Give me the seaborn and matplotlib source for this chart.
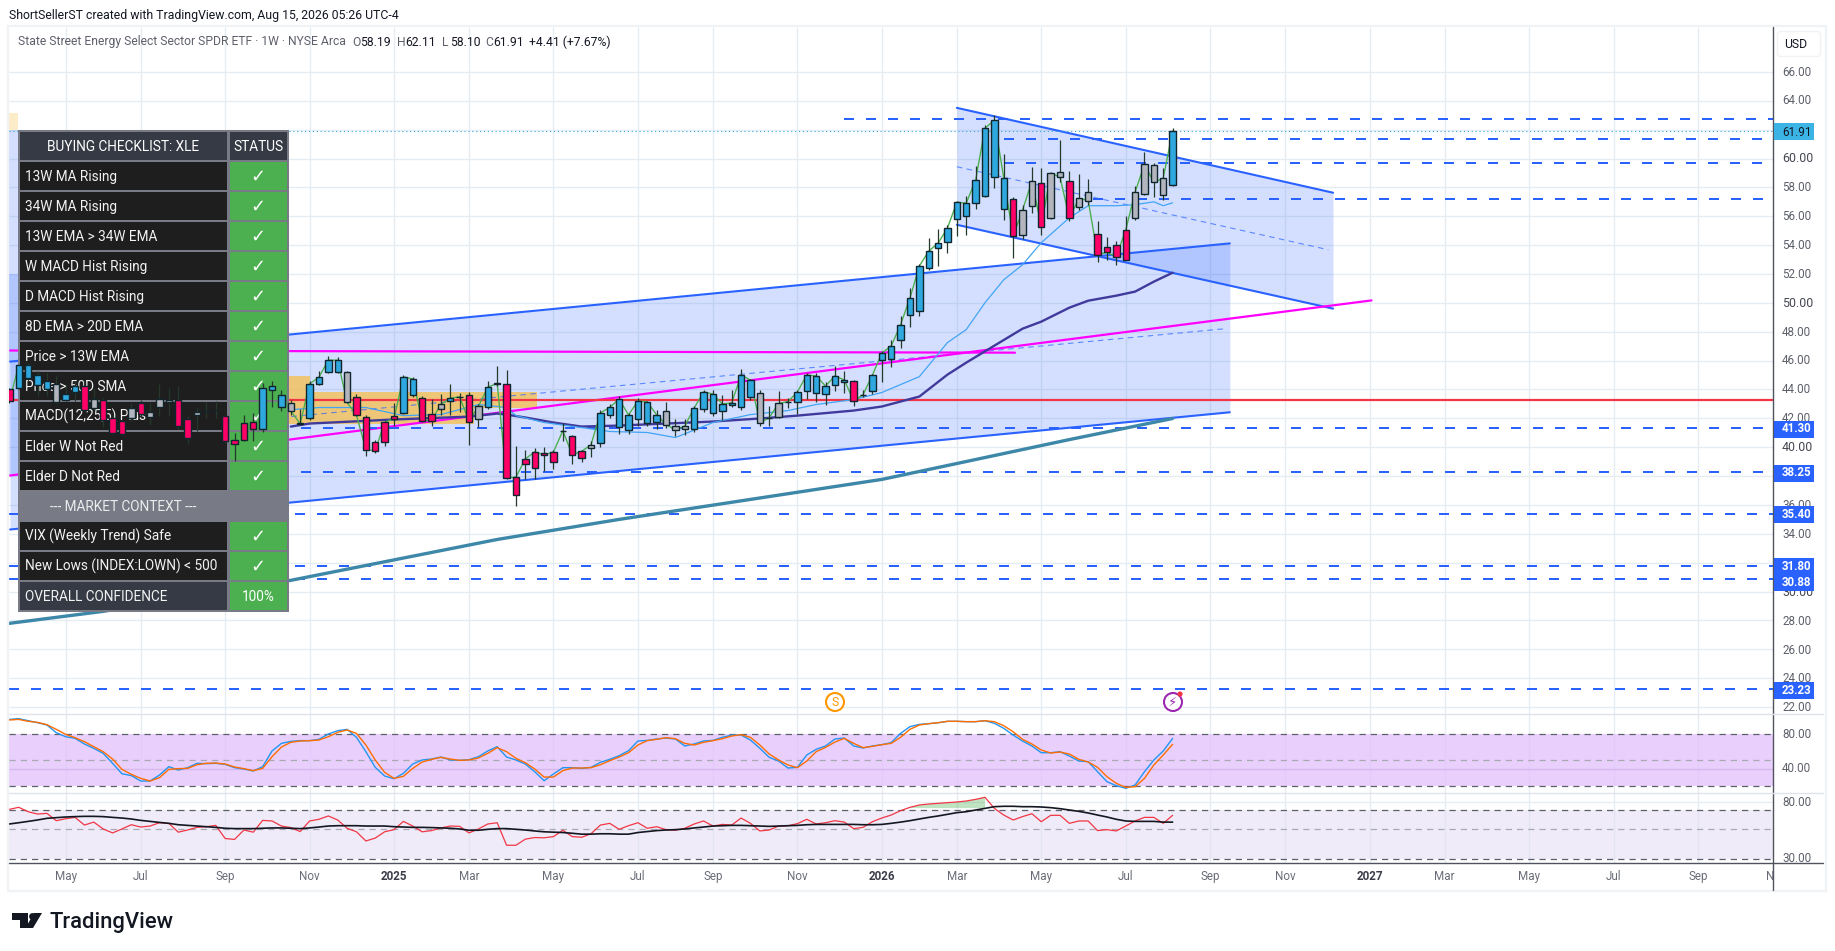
import numpy as np
import matplotlib
matplotlib.use("Agg")
import matplotlib.pyplot as plt
from matplotlib.patches import Rectangle, Polygon, Circle, FancyBboxPatch
import seaborn as sns

# Weekly candles, bar 1 is the leftmost on the chart and bar 125 the last one
opens = [44.0,44.11,44.8,44.3,44.0,44.41,43.28,43.83,44.23,42.73,43.26,42.03,41.8,42.03,43.07,42.47,42.82,43.26,43.26,41.94,
         42.24,42.5,42.56,42.15,40.49,40.51,41.27,41.23,43.97,42.82,43.05,41.66,41.99,44.41,45.24,45.22,45.22,43.46,42.08,40.35,
         40.37,42.15,42.38,43.63,43.42,42.29,42.68,43.21,43.51,43.63,41.97,42.8,44.43,44.36,36.68,38.84,38.57,39.61,38.98,41.13,
         40.78,39.26,39.95,40.3,42.24,41.41,41.2,41.96,41.68,41.75,42.51,41.47,41.27,41.27,42.65,42.37,42.51,42.93,42.79,43.48,
         43.74,42.03,42.1,43.14,43.14,43.9,43.76,43.69,44.31,44.5,44.59,43.62,43.9,46.02,46.09,47.45,49.13,49.41,52.45,53.79,
         54.25,55.78,56.05,56.95,57.41,58.75,56.49,57.18,54.67,56.68,58.29,55.87,59.05,58.43,56.61,57.67,54.76,53.86,54.0,53.0,
         55.85,57.51,59.54,57.44,58.19]
highs = [44.11,45.73,45.84,45.26,45.15,45.03,44.34,44.57,44.69,44.11,43.42,42.26,41.92,43.07,43.3,43.07,44.41,44.11,44.23,42.15,
         42.73,43.12,43.19,42.26,41.0,42.26,42.38,44.46,44.57,43.99,43.3,42.68,44.57,45.26,46.3,46.26,45.26,43.72,42.26,40.53,
         41.85,43.07,45.03,44.87,43.53,43.35,43.72,44.39,43.76,43.81,42.96,44.62,45.66,45.38,40.07,39.84,39.95,40.02,39.84,41.68,
         40.87,39.84,40.46,42.56,43.0,43.53,42.37,43.41,43.18,42.56,43.16,41.96,41.96,42.84,43.99,43.99,43.64,43.99,45.44,44.75,
         43.99,42.84,43.87,43.41,43.99,45.14,45.14,44.5,45.65,45.3,44.68,43.99,45.07,46.69,47.45,49.06,51.02,52.71,54.48,55.11,
         55.41,57.07,57.41,59.49,62.33,63.02,60.32,57.32,56.79,59.4,59.33,59.1,61.29,59.14,58.94,58.59,55.68,54.58,54.32,56.03,
         58.11,60.48,59.67,59.33,62.11]
lows = [43.07,44.04,44.57,43.58,43.53,43.07,43.19,43.19,42.5,42.61,41.41,40.88,40.88,41.8,42.1,41.57,42.15,42.15,41.23,40.19,
        41.11,41.99,41.99,40.3,39.03,40.42,40.42,41.04,42.77,42.5,42.26,41.55,41.92,44.34,45.15,45.15,43.03,42.15,39.38,39.61,
        40.07,41.46,42.31,43.49,41.78,41.5,42.26,42.26,42.43,40.12,41.39,42.66,44.23,37.77,35.92,37.81,37.81,38.34,38.52,40.41,
        38.87,38.96,39.31,39.99,42.0,40.9,40.92,41.45,41.5,41.27,41.34,40.76,40.83,41.04,42.42,42.19,41.91,42.77,42.61,43.3,
        41.45,41.45,42.0,42.74,42.28,43.34,43.11,42.95,43.92,43.76,42.84,43.46,43.71,44.5,45.56,46.87,48.32,49.11,52.29,52.52,
        53.45,54.6,54.67,56.51,57.3,57.99,55.75,53.08,54.44,56.26,54.71,55.8,58.34,55.64,56.44,56.79,52.85,52.98,52.64,52.98,
        55.75,57.46,57.3,57.14,58.1]
closes = [43.19,45.68,45.68,44.99,44.57,43.16,43.67,44.23,42.61,43.37,41.92,41.0,40.93,42.75,42.33,42.06,43.33,43.16,41.5,40.67,
          42.47,42.54,42.55,40.4,40.19,41.66,41.73,44.09,44.23,43.6,42.52,41.62,44.39,44.85,46.03,46.03,43.1,42.24,39.84,39.75,
          41.73,41.97,44.87,44.73,41.83,41.85,42.98,43.4,43.49,41.78,42.84,44.16,44.41,37.88,37.93,39.19,39.68,39.47,39.68,41.15,
          39.47,39.72,40.16,42.37,42.77,43.32,42.24,43.2,43.14,42.24,41.57,41.2,41.47,42.72,43.83,43.69,43.0,43.07,45.0,44.66,
          41.68,42.05,43.04,43.16,43.83,45.0,44.94,44.24,44.94,44.66,43.2,43.64,45.0,46.53,47.01,48.49,50.33,52.55,53.58,54.14,
          55.18,56.97,56.91,58.5,62.1,62.65,58.64,54.62,56.42,58.43,55.29,58.98,58.71,55.85,57.25,57.09,53.35,53.49,53.21,55.04,
          57.67,59.6,58.34,58.64,61.91]
# r = red, b = blue, g = grey candle
impulse = list("rbbbbgbbrg" "rrrgrgggrr" "gbgrrrrbbb" "ggbbbbgrrr" "rrbbrrgbgr"
               "gbgrrrrrrg" "rrgbbbbbbb" "gggbbbbbbb" "ggggbbbbbb" "rgbbbbbbbb"
               "bbbbbbbrgg" "rggrggrrrr" "ggggb")

# Trend averages: (bar, price)
ma13_bars = [31,34,39,43,47,51,54,55,58,62,65,69,72,76,80,84,87,91,94,98,101,103,105,107,109,111,114,116,119,121,123,124,125]
ma13_vals = [42.6,42.75,42.75,42.19,42.26,42.96,42.75,42.19,41.71,41.36,41.09,41.02,40.67,41.71,42.26,42.54,42.96,43.3,43.79,
             44.89,47.25,48.15,50.01,51.6,52.64,54.17,55.9,56.73,56.73,56.8,57.0,56.73,56.93]
ma34_bars = [31,33,42,50,53,54,56,59,62,66,71,76,81,85,91,94,98,101,103,109,111,114,116,119,121,123,125]
ma34_vals = [41.43,41.64,41.92,42.12,42.33,42.26,42.06,41.71,41.43,41.5,41.64,41.78,41.99,42.19,42.54,42.82,43.51,45.03,45.86,
             48.21,48.7,49.67,50.15,50.5,50.78,51.47,52.09]
ma200_bars = [1,11,31,53,66,94,103,114,125]
ma200_vals = [27.8,28.63,30.78,33.61,35.0,37.77,39.01,40.53,41.99]

# Horizontal levels: price, first bar, last bar
level_prices = [62.75,61.36,59.7,57.2,41.3,38.25,35.4,31.8,30.88,23.23]
level_starts = [90,107,107,116.5,25,25,1,1,1,1]
level_ends = [189,187.8,187.8,189,189,189,189,189,189,189]
axis_labels = ["41.30","38.25","35.40","31.80","30.88","23.23"]
axis_label_y = [429,473,514,566,582,690]

price_ticks = list(range(22,68,2))
month_bars = [7,15,24,33,42,50,59,68,76,85,94,102,111,120,129,137,146,154,163,172,181,189.3]
month_names = ["May","Jul","Sep","Nov","2025","Mar","May","Jul","Sep","Nov","2026","Mar","May","Jul","Sep","Nov","2027","Mar",
               "May","Jul","Sep","Nov"]

# Stochastic RSI pane
stoch_k = [96.7,97.5,95.2,92.9,90.3,81.5,76.9,75.0,68.6,63.6,57.9,46.5,34.6,32.4,26.3,26.3,33.1,42.7,38.8,41.5,46.5,46.1,46.5,45.3,
           41.5,40.0,37.7,42.7,60.6,69.3,71.6,72.4,72.4,73.9,80.0,83.8,85.3,76.2,59.8,41.9,32.0,28.9,35.0,45.7,50.3,51.4,53.7,50.3,
           49.9,50.6,54.1,60.6,65.5,53.7,50.3,45.7,36.9,26.6,34.3,41.5,41.5,40.7,41.9,47.6,51.0,55.2,
           60.9,72.0,72.7,74.3,75.4,74.3,66.3,68.6,72.0,72.7,76.2,78.8,78.8,73.1,63.6,53.3,49.1,41.1,41.9,56.0,62.5,66.3,74.3,75.4,
           66.3,64.0,66.3,67.8,70.1,80.7,88.4,91.0,91.8,92.9,94.5,94.5,94.1,94.1,95.2,92.2,86.5,78.8,72.0,66.3,58.6,58.6,59.8,54.8,
           49.1,48.4,36.9,25.5,20.9,17.9,21.7,36.9,50.3,60.6,75.0]
stoch_d = [96.0,96.7,94.5,93.3,90.7,85.3,79.6,75.8,71.2,65.5,59.8,51.4,39.6,33.9,29.3,26.3,30.1,39.6,40.4,40.7,44.9,46.5,46.8,45.7,
           42.3,40.4,38.1,40.7,54.1,65.1,70.5,72.0,72.4,73.1,76.9,81.9,84.6,80.7,67.4,50.3,36.2,29.3,31.6,40.7,48.0,51.0,53.3,51.4,
           49.9,50.3,52.6,57.9,64.4,59.8,52.2,47.2,40.0,30.8,30.8,38.1,41.1,41.1,41.5,44.9,49.5,53.7,
           58.6,67.4,72.4,73.9,75.8,74.6,69.3,67.4,70.5,72.4,74.6,77.7,79.2,76.2,67.4,57.1,50.3,44.6,41.5,49.1,59.8,64.7,70.8,75.0,
           69.3,64.4,65.9,67.8,69.3,76.2,85.3,90.3,91.8,92.9,94.5,94.5,94.1,94.1,95.2,94.1,89.5,82.6,73.9,68.6,61.7,58.3,59.4,57.1,
           51.0,48.0,41.9,31.2,23.6,19.0,19.8,29.3,44.6,56.0,68.2]

# RSI pane
rsi = [70.5,73.0,67.7,65.0,65.8,58.0,60.0,61.4,53.8,56.6,50.3,47.0,50.3,54.1,52.0,52.9,56.0,55.4,47.6,49.4,51.7,52.3,53.5,42.7,42.0,
       49.4,47.6,58.3,57.7,52.9,51.5,48.1,57.7,59.4,62.9,58.7,50.9,47.9,40.9,43.0,47.9,49.7,57.3,52.9,47.9,48.9,51.2,52.9,52.6,47.0,
       50.3,54.8,56.0,38.0,38.0,42.2,43.4,43.2,44.1,49.2,44.1,43.6,46.3,53.8,55.4,50.0,
       53.2,56.0,50.9,52.3,49.7,49.2,50.9,54.8,57.7,52.9,54.4,53.8,60.7,55.4,48.6,49.4,52.9,53.2,55.1,59.4,54.8,56.0,58.0,56.6,50.6,
       51.7,57.0,60.7,63.9,68.9,73.0,76.0,77.3,78.2,79.1,80.0,81.4,83.7,86.7,71.7,63.9,58.7,62.2,65.4,57.0,63.6,63.6,55.4,57.7,57.7,
       48.9,49.7,48.6,52.9,57.7,61.4,61.4,55.4,63.6]
rsi_ma = [54.8,56.0,57.3,58.7,60.4,61.1,61.8,62.2,62.5,62.5,62.2,61.4,60.7,59.7,58.3,57.3,56.3,55.4,54.1,53.5,52.9,52.3,51.7,50.9,
          50.6,50.6,50.6,50.9,51.2,51.2,50.9,50.6,51.2,52.0,52.9,53.2,53.2,53.2,52.9,52.9,52.9,52.3,52.0,51.7,51.7,51.5,51.2,50.9,
          50.3,49.2,49.2,50.0,50.6,50.6,50.0,49.4,48.6,47.9,47.6,47.3,46.7,46.0,46.0,46.3,46.3,46.0,
          46.0,47.3,48.1,48.9,49.4,49.7,50.3,51.2,52.0,52.9,53.2,53.5,53.5,53.2,52.9,52.6,52.9,53.2,53.5,54.1,54.4,54.4,54.4,54.4,54.4,
          54.1,54.1,54.4,55.4,56.6,58.0,59.7,61.4,62.9,64.7,66.6,67.7,69.7,71.7,73.8,74.3,74.3,73.8,73.8,73.4,72.6,71.3,69.7,68.1,66.2,
          63.9,61.8,59.4,57.7,57.3,57.3,57.3,56.6,56.6]

checklist_items = ["13W MA Rising","34W MA Rising","13W EMA > 34W EMA","W MACD Hist Rising","D MACD Hist Rising","8D EMA > 20D EMA",
                   "Price > 13W EMA","Price > 50D SMA","MACD(12,25,5) Plus","Elder W Not Red","Elder D Not Red"]
context_items = ["VIX (Weekly Trend) Safe","New Lows (INDEX:LOWN) < 500"]

W, H = 1835, 951
BAR_LEFT, BAR_RIGHT = 0.96, 189.0
GRID = "#e6edf2"
BLUE = "#2962ff"

sns.set_theme(style="white")
plt.rcParams["font.family"] = ["Roboto", "DejaVu Sans"]

fig = plt.figure(figsize=(W / 100, H / 100), dpi=100, facecolor="white")


def pane(top, bottom, zorder=1):
    ax = fig.add_axes([9 / W, 1 - bottom / H, (1773 - 9) / W, (bottom - top) / H], zorder=zorder)
    ax.patch.set_alpha(0)
    return ax


def line(ax, x, y, color, lw, **kw):
    sns.lineplot(x=x, y=y, ax=ax, color=color, linewidth=lw, estimator=None, sort=False, legend=False, **kw)


def finish(ax, ylim):
    ax.set_xlim(BAR_LEFT, BAR_RIGHT)
    ax.set_ylim(*ylim)
    ax.set_xlabel("")
    ax.set_ylabel("")
    ax.set_xticks([])
    ax.set_yticks([], minor=False)
    ax.minorticks_off()
    for s in ax.spines.values():
        s.set_visible(False)


bars = np.arange(1, 126)
PRICE_LIM = (21.52, 69.11)

# --- main price pane ---
ax = pane(27, 714)
ax.vlines(month_bars[:-1], *PRICE_LIM, color=GRID, lw=1.0, zorder=0)
ax.hlines(price_ticks, BAR_LEFT, BAR_RIGHT, color=GRID, lw=1.0, zorder=0)

# channels and zones
ax.fill_between([1.07, 131.1], [34.3, 42.42], [45.93, 54.12], color=BLUE, alpha=0.2, lw=0, zorder=1)
ax.fill_between([102, 142.1], [55.41, 49.6], [63.51, 57.63], color=BLUE, alpha=0.2, lw=0, zorder=1)
ax.fill_between([0.96, 2.2], [45.9, 45.9], [62.0, 62.0], color=BLUE, alpha=0.2, lw=0, zorder=1)
ax.fill_between([0.96, 2.2], [38.0, 38.0], [52.0, 52.0], color=BLUE, alpha=0.2, lw=0, zorder=1)
ax.fill_between([0.96, 1.9], [62.0, 62.0], [63.16, 63.16], color="#fdecc8", lw=0, zorder=1)
ax.fill_between([25, 33], [43.85, 43.85], [44.96, 44.96], color="#f2c35f", alpha=0.85, lw=0, zorder=1.2)
ax.fill_between([25, 57.2], [42.75, 42.75], [43.85, 43.85], color="#f2c35f", alpha=0.85, lw=0, zorder=1.2)
ax.fill_between([25, 50.5], [41.64, 41.64], [42.75, 42.75], color="#f2c35f", alpha=0.85, lw=0, zorder=1.2)

line(ax, [1.07, 131.1], [45.93, 54.12], BLUE, 1.5)
line(ax, [1.07, 131.1], [34.3, 42.42], BLUE, 1.5)
line(ax, [30, 130.6], [42.06, 48.21], BLUE, 0.8, linestyle=(0, (5, 4)), alpha=0.7)
line(ax, [102, 142.1], [63.51, 57.63], BLUE, 1.5)
line(ax, [102, 142.1], [55.41, 49.6], BLUE, 1.5)
line(ax, [102, 141.6], [59.43, 53.68], BLUE, 0.8, linestyle=(0, (5, 4)), alpha=0.7)

line(ax, [1.07, 108.2], [46.7, 46.55], "#ff00ff", 1.6)
line(ax, [1.07, 146.2], [38.04, 50.17], "#ff00ff", 1.6)
line(ax, [0.96, 189], [43.3, 43.3], "#f23645", 1.6)
line(ax, [0.96, 189], [61.91, 61.91], "#2fa8df", 0.8, linestyle=(0, (1, 2.5)))

for price, start, end in zip(level_prices, level_starts, level_ends):
    line(ax, [start, end], [price, price], BLUE, 1.44, linestyle=(0, (5, 6)))

line(ax, ma200_bars, ma200_vals, "#3d87a8", 2.4)
line(ax, ma34_bars, ma34_vals, "#403a9c", 1.7)
line(ax, ma13_bars, ma13_vals, "#42a5f5", 0.9)
line(ax, bars, closes, "#4caf50", 1.0)
finish(ax, PRICE_LIM)

# --- stochastic RSI pane ---
ax_st = pane(714, 793)
STOCH_LIM = (12.57, 102.86)
ax_st.vlines(month_bars[:-1], *STOCH_LIM, color=GRID, lw=1.0, zorder=0)
ax_st.axhspan(20, 80, color="#e2c0fc", alpha=0.75, lw=0, zorder=1)
ax_st.hlines(40, BAR_LEFT, BAR_RIGHT, color="#d5b8ee", lw=1.0, zorder=1.2)
for lev, col in zip([80, 50, 20], ["#5d606b", "#a9a9b3", "#5d606b"]):
    ax_st.hlines(lev, BAR_LEFT, BAR_RIGHT, color=col, lw=0.9, linestyles=(0, (5, 4)), zorder=1.3)
line(ax_st, bars, stoch_k, "#2196f3", 1.0)
line(ax_st, bars, stoch_d, "#ff6d00", 1.0)
finish(ax_st, STOCH_LIM)

# --- RSI pane, log scale ---
ax_r = pane(793, 863)
ax_r.set_yscale("log")
RSI_LIM = (28.0, 93.4)
ax_r.vlines(month_bars[:-1], *RSI_LIM, color=GRID, lw=1.0, zorder=0)
ax_r.hlines(80, BAR_LEFT, BAR_RIGHT, color=GRID, lw=1.0, zorder=0)
ax_r.axhspan(30, 70, color="#e3dcf3", alpha=0.55, lw=0, zorder=1)
for lev, col in zip([70, 50, 30], ["#5d606b", "#a9a9b3", "#5d606b"]):
    ax_r.hlines(lev, BAR_LEFT, BAR_RIGHT, color=col, lw=0.9, linestyles=(0, (5, 4)), zorder=1.3)
rsi_arr = np.array(rsi)
ax_r.fill_between(bars, rsi_arr, 72, where=rsi_arr > 72, color="#4caf50", alpha=0.35, lw=0, zorder=1.4)
line(ax_r, bars, rsi, "#f23645", 0.9)
line(ax_r, bars, rsi_ma, "#131722", 1.2)
finish(ax_r, RSI_LIM)

# --- time axis ---
ax_t = pane(863, 890)
finish(ax_t, (0, 1))
for bar, name in zip(month_bars, month_names):
    is_year = name.startswith("20")
    ax_t.text(bar, 0.5, name, ha="center", va="center", fontsize=8.4, clip_on=True,
              color="#3b3e48" if is_year else "#6a6d78", fontweight="bold" if is_year else "normal")

# --- overlay in pixel coordinates: table, price axis, header, logo ---
over = fig.add_axes([0, 0, 1, 1], zorder=3)
over.set_xlim(0, W)
over.set_ylim(H, 0)
over.axis("off")
over.patch.set_alpha(0)


def box(x0, y0, x1, y1, color, z=2):
    over.add_patch(Rectangle((x0, y0), x1 - x0, y1 - y0, facecolor=color, edgecolor="none", zorder=z))


# pale frame and axis lines
over.add_patch(Rectangle((8, 26), 1818, 865, facecolor="none", edgecolor="#f0f3f6", lw=1.6, zorder=1))
over.plot([1773, 1773], [27, 890], color="#50535e", lw=1.0, zorder=1.5)
over.plot([9, 1823], [863, 863], color="#50535e", lw=1.0, zorder=1.5)
over.plot([9, 1823], [714, 714], color="#e0e3eb", lw=1.0, zorder=1.5)
over.plot([9, 1823], [793, 793], color="#e0e3eb", lw=1.0, zorder=1.5)

AX_TXT = "#5d606b"
for p in price_ticks:
    y = 72 + (66 - p) * 14.45
    big = p % 10 == 0
    over.text(1782, y, f"{p:.2f}", fontsize=8.9 if big else 8.4, color="#454852" if big else AX_TXT, va="center", ha="left", zorder=2)
over.text(1782, 734, "80.00", fontsize=8.4, color=AX_TXT, va="center", zorder=2)
over.text(1782, 769, "40.00", fontsize=8.4, color=AX_TXT, va="center", zorder=2)
over.text(1782, 802, "80.00", fontsize=8.4, color=AX_TXT, va="center", zorder=2)
over.text(1782, 859, "30.00", fontsize=8.4, color=AX_TXT, va="center", zorder=2)

box(1774, 123, 1814, 140, "#3bb3e4", z=2.5)
over.text(1782, 132, "61.91", fontsize=8.4, color="#131722", va="center", zorder=2.6)
for label, y in zip(axis_labels, axis_label_y):
    box(1774, y - 8.5, 1814, y + 8.5, BLUE, z=2.5)
    over.text(1782, y, label, fontsize=8.3, color="white", fontweight="bold", va="center", zorder=2.6)

over.add_patch(FancyBboxPatch((1779, 33), 40, 22, boxstyle="round,pad=1.5,rounding_size=3", facecolor="white",
                              edgecolor="#f0f3f6", lw=1.0, zorder=2))
over.text(1796, 45, "USD", fontsize=8.8, color="#131722", ha="center", va="center", zorder=2.6)

# header text
over.text(9, 15, "ShortSellerST created with TradingView.com, Aug 15, 2026 05:26 UTC-4", fontsize=8.8, color="#131722", va="center")
over.text(18, 42, "State Street Energy Select Sector SPDR ETF · 1W · NYSE Arca", fontsize=8.75, color="#5d606b", va="center")
for x, head, val in zip([352, 397, 442, 485], ["O", "H", "L", "C"], ["58.19", "62.11", "58.10", "61.91"]):
    over.text(x, 42, head, fontsize=8.7, color="#5d606b", va="center")
    over.text(x + 8, 42, val, fontsize=8.7, color="#131722", va="center")
over.text(529, 42, "+4.41 (+7.67%)", fontsize=8.7, color="#131722", va="center")

# checklist table
box(18, 130, 289, 612, "#787b86")
DARK, HEAD, GREEN = "#1e1e1e", "#363a45", "#4caf50"
col_x = (20, 227, 229.5, 287)
TBL_SIZE = 9.8


def row_y(i):
    return 132 + 30 * i, 159.5 + 30 * i


def mid(i):
    y0, y1 = row_y(i)
    return (y0 + y1) / 2 + 0.8


y0, y1 = row_y(0)
box(col_x[0], y0, col_x[1], y1, HEAD, z=2.2)
box(col_x[2], y0, col_x[3], y1, HEAD, z=2.2)
over.text(123.5, mid(0), "BUYING CHECKLIST: XLE", fontsize=TBL_SIZE, color="white", ha="center", va="center", zorder=2.3)
over.text(258, mid(0), "STATUS", fontsize=TBL_SIZE, color="white", ha="center", va="center", zorder=2.3)


def check_row(i, label):
    y0, y1 = row_y(i)
    box(col_x[0], y0, col_x[1], y1, DARK, z=2.2)
    box(col_x[2], y0, col_x[3], y1, GREEN, z=2.2)
    over.text(25, mid(i), label, fontsize=TBL_SIZE, color="#f2f2f2", va="center", zorder=2.3)
    over.text(258, mid(i), "✓", fontsize=13, family="DejaVu Sans", fontweight="bold", color="white", ha="center", va="center", zorder=2.3)


for i, label in enumerate(checklist_items):
    check_row(i + 1, label)
over.text(123.5, mid(12), "--- MARKET CONTEXT ---", fontsize=TBL_SIZE, color="#ececec", ha="center", va="center", zorder=2.3)
for i, label in enumerate(context_items):
    check_row(i + 13, label)
y0, y1 = row_y(15)
box(col_x[0], y0, col_x[1], y1, HEAD, z=2.2)
box(col_x[2], y0, col_x[3], y1, GREEN, z=2.2)
over.text(25, mid(15), "OVERALL CONFIDENCE", fontsize=TBL_SIZE, color="#f2f2f2", va="center", zorder=2.3)
over.text(258, mid(15), "100%", fontsize=TBL_SIZE, color="white", ha="center", va="center", zorder=2.3)

# event icons
over.add_patch(Circle((835, 702), 9, facecolor="white", edgecolor="#ff9800", lw=1.5, zorder=2.4))
over.text(835, 702, "S", fontsize=8.8, color="#ff9800", ha="center", va="center", zorder=2.5)
over.add_patch(Circle((1173, 702), 9, facecolor="white", edgecolor="#9c27b0", lw=1.5, zorder=2.4))
over.text(1173, 702, "⚡", fontsize=9.5, family="DejaVu Sans", color="#9c27b0", ha="center", va="center", zorder=2.5)
over.add_patch(Circle((1180, 694), 2.6, facecolor="#f23645", edgecolor="none", zorder=2.6))

# TradingView logo
over.add_patch(Polygon([(12, 913), (28, 913), (28, 928), (20, 928), (20, 920), (12, 920)], facecolor="#131722", edgecolor="none"))
over.add_patch(Circle((32.5, 916.5), 3.4, facecolor="#131722", edgecolor="none"))
over.add_patch(Polygon([(34, 913), (42, 913), (33, 928), (25.5, 928)], facecolor="#131722", edgecolor="none"))
over.text(49, 922.5, "TradingView", fontsize=15.8, color="#131722", va="center", fontweight="medium")

# --- candles drawn above the table ---
ax_c = pane(27, 714, zorder=5)
o, c = np.array(opens), np.array(closes)
face = {"b": "#2fa8df", "r": "#ff0066", "g": "#b2b5be"}
ax_c.vlines(bars, lows, highs, color="#24392a", lw=0.9, zorder=1)
ax_c.bar(bars, np.abs(c - o), bottom=np.minimum(o, c), width=0.68, color=[face[k] for k in impulse],
         edgecolor="#10262c", linewidth=1.0, zorder=2)
finish(ax_c, PRICE_LIM)

fig.savefig("out.png", dpi=100, facecolor="white")
